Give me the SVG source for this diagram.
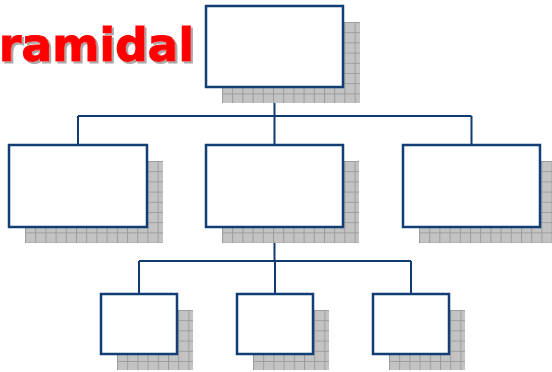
<svg xmlns="http://www.w3.org/2000/svg" width="552" height="372" viewBox="0 0 552 372">
  <defs>
    <!-- hatched grid used for the drop shadows -->
    <pattern id="grid" patternUnits="userSpaceOnUse" width="10.2" height="10.2">
      <rect width="10.2" height="10.2" fill="#c3c3c3"/>
      <path d="M0 0.5H10.2M0.5 0V10.2" stroke="#9c9c9c" stroke-width="1" fill="none"/>
    </pattern>
    <filter id="textShadow" x="-5%" y="-20%" width="115%" height="150%">
      <feDropShadow dx="2" dy="2" stdDeviation="0.3" flood-color="#a8a8a8" flood-opacity="1"/>
    </filter>
  </defs>
  <style>
    .box { fill: #ffffff; stroke: #133e73; stroke-width: 2.5; }
    .shadow { fill: url(#grid); }
    .link { fill: none; stroke: #0f3b70; stroke-width: 2; }
    .title { font-family: "DejaVu Sans", Verdana, sans-serif; font-weight: bold; font-size: 47px; fill: #ff0000; stroke: #ff0000; stroke-width: 1.2; }
  </style>
  <rect width="552" height="372" fill="#ffffff"/>

  <!-- heading -->
  <g id="title">
    <text class="title" x="-1" y="61" textLength="195" lengthAdjust="spacingAndGlyphs" filter="url(#textShadow)">ramidal</text>
  </g>

  <!-- connectors -->
  <g id="connectors">
    <path class="link" d="M274.5 87V116M78 116H471.5M78 116V145M274.5 116V145M471.5 116V145"/>
    <path class="link" d="M274.5 227V261M139 261H411M139 261V294M275 261V294M411 261V294"/>
  </g>

  <!-- nodes -->
  <g id="node-top">
    <g transform="translate(222 22)"><rect class="shadow" width="138" height="81"/></g>
    <rect class="box" x="206" y="6" width="137" height="81"/>
  </g>
  <g id="node-mid-left">
    <g transform="translate(25 161)"><rect class="shadow" width="138" height="82"/></g>
    <rect class="box" x="9" y="145" width="138" height="82"/>
  </g>
  <g id="node-mid-center">
    <g transform="translate(222 161)"><rect class="shadow" width="137" height="82"/></g>
    <rect class="box" x="206" y="145" width="137" height="82"/>
  </g>
  <g id="node-mid-right">
    <g transform="translate(419 161)"><rect class="shadow" width="137" height="82"/></g>
    <rect class="box" x="403" y="145" width="137" height="82"/>
  </g>
  <g id="node-bottom-left">
    <g transform="translate(117 310)"><rect class="shadow" width="76" height="60"/></g>
    <rect class="box" x="101" y="294" width="76" height="60"/>
  </g>
  <g id="node-bottom-center">
    <g transform="translate(253 310)"><rect class="shadow" width="76" height="60"/></g>
    <rect class="box" x="237" y="294" width="76" height="60"/>
  </g>
  <g id="node-bottom-right">
    <g transform="translate(389 310)"><rect class="shadow" width="76" height="60"/></g>
    <rect class="box" x="373" y="294" width="76" height="60"/>
  </g>
</svg>
